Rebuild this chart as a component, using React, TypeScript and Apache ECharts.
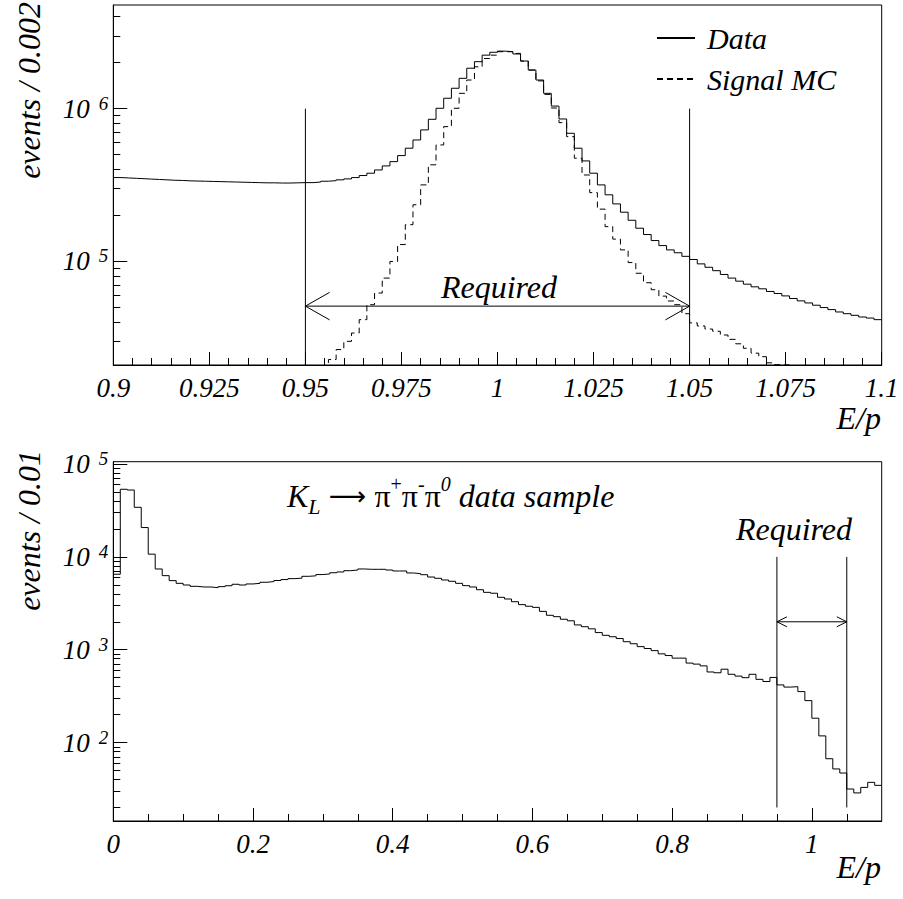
import React, { useEffect, useRef } from "react";
import * as echarts from "echarts";

// ---------------- data ----------------
// Top panel: E/p from 0.9 to 1.1, bins of 0.002
const TOP_X_MIN = 0.9;
const TOP_X_MAX = 1.1;
const TOP_BIN = 0.002;
const TOP_Y_MIN = 2.1e4;
const TOP_Y_MAX = 4.77e6;

const topDataValues = [
  3.54e5, 3.52e5, 3.5e5, 3.48e5, 3.46e5, 3.44e5, 3.42e5, 3.4e5, 3.39e5, 3.37e5,
  3.36e5, 3.35e5, 3.34e5, 3.33e5, 3.32e5, 3.31e5, 3.3e5, 3.29e5, 3.28e5, 3.27e5,
  3.27e5, 3.26e5, 3.26e5, 3.27e5, 3.28e5, 3.28e5, 3.31e5, 3.35e5, 3.38e5, 3.42e5,
  3.47e5, 3.54e5, 3.65e5, 3.78e5, 3.97e5, 4.22e5, 4.5e5, 4.93e5, 5.51e5, 6.24e5,
  7.26e5, 8.52e5, 1.006e6, 1.17e6, 1.36e6, 1.58e6, 1.84e6, 2.03e6, 2.24e6, 2.34e6,
  2.38e6, 2.36e6, 2.28e6, 2.05e6, 1.79e6, 1.54e6, 1.26e6, 1.04e6, 8.56e5, 6.9e5,
  5.51e5, 4.55e5, 3.78e5, 3.17e5, 2.73e5, 2.38e5, 2.1e5, 1.86e5, 1.65e5, 1.5e5,
  1.37e5, 1.27e5, 1.19e5, 1.14e5, 1.08e5, 1.03e5, 9.64e4, 9.16e4, 8.7e4, 8.22e4,
  7.78e4, 7.43e4, 7.1e4, 6.82e4, 6.62e4, 6.36e4, 6.17e4, 5.95e4, 5.72e4, 5.52e4,
  5.35e4, 5.17e4, 4.99e4, 4.84e4, 4.67e4, 4.55e4, 4.44e4, 4.33e4, 4.26e4, 4.16e4,
];

const MC_START_BIN = 27;
const topMcValues = [
  1.8e4, 2.28e4, 2.65e4, 3.0e4, 3.4e4, 4.16e4, 5.21e4, 6.21e4, 7.78e4, 1.0e5,
  1.29e5, 1.74e5, 2.35e5, 3.17e5, 4.29e5, 5.79e5, 7.63e5, 1.006e6, 1.26e6, 1.54e6,
  1.88e6, 2.13e6, 2.24e6, 2.36e6, 2.36e6, 2.3e6, 2.05e6, 1.79e6, 1.52e6, 1.24e6,
  1.01e6, 8.1e5, 6.56e5, 4.74e5, 3.68e5, 2.82e5, 2.2e5, 1.69e5, 1.4e5, 1.19e5,
  9.83e4, 8.37e4, 7.26e4, 6.53e4, 5.93e4, 5.51e4, 5.21e4, 4.55e4, 3.96e4, 3.78e4,
  3.61e4, 3.49e4, 3.3e4, 3.09e4, 2.89e4, 2.7e4, 2.51e4, 2.38e4, 2.17e4, 2.11e4,
  2.1e4, 1.9e4,
];

// Bottom panel: E/p from 0 to 1.1, bins of 0.01
const BOT_X_MIN = 0;
const BOT_X_MAX = 1.1;
const BOT_BIN = 0.01;
const BOT_Y_MIN = 14.3;
const BOT_Y_MAX = 1.06e5;

const bottomDataValues = [
  6.5e3, 5.35e4, 5.25e4, 3.42e4, 2.07e4, 1.07e4, 7.41e3, 6.28e3, 5.55e3, 5.19e3,
  4.98e3, 4.82e3, 4.74e3, 4.74e3, 4.66e3, 4.78e3, 4.89e3, 5.07e3, 4.98e3, 5.11e3,
  5.19e3, 5.33e3, 5.42e3, 5.57e3, 5.7e3, 5.83e3, 5.9e3, 6.18e3, 6.25e3, 6.45e3,
  6.55e3, 6.75e3, 6.88e3, 7.1e3, 7.22e3, 7.41e3, 7.35e3, 7.35e3, 7.35e3, 7.22e3,
  7.05e3, 7.05e3, 6.71e3, 6.6e3, 6.43e3, 6.07e3, 5.88e3, 5.64e3, 5.46e3, 5.19e3,
  4.9e3, 4.74e3, 4.43e3, 4.15e3, 4.06e3, 3.67e3, 3.52e3, 3.29e3, 3.06e3, 2.94e3,
  2.86e3, 2.59e3, 2.35e3, 2.27e3, 2.13e3, 2.05e3, 1.85e3, 1.77e3, 1.68e3, 1.53e3,
  1.43e3, 1.38e3, 1.32e3, 1.22e3, 1.16e3, 1.08e3, 1.03e3, 978, 903, 866,
  812, 812, 718, 700, 670, 576, 565, 617, 544, 520,
  500, 544, 480, 455, 503, 418, 396, 400, 354, 283,
  183, 118, 67, 52, 47, 31.6, 28.7, 32.9, 37.3, 34.6,
];

// cut window and arrows
const CUTS = [0.95, 1.05];
const TOP_CUT_TOP = 1e6;
const TOP_ARROW_Y = 5.1e4;
const BOT_CUT_RANGE = [20, 1e4];
const BOT_ARROW_Y = 2.0e3;

// ticks
const topXMajorTicks = [0.9, 0.925, 0.95, 0.975, 1, 1.025, 1.05, 1.075, 1.1];
const topXMinorTicks = [
  0.905, 0.91, 0.915, 0.92, 0.93, 0.935, 0.94, 0.945, 0.955, 0.96, 0.965, 0.97,
  0.98, 0.985, 0.99, 0.995, 1.005, 1.01, 1.015, 1.02, 1.03, 1.035, 1.04, 1.045,
  1.055, 1.06, 1.065, 1.07, 1.08, 1.085, 1.09, 1.095,
];
const botXMajorTicks = [0, 0.2, 0.4, 0.6, 0.8, 1];
const botXMinorTicks = [
  0.05, 0.1, 0.15, 0.25, 0.3, 0.35, 0.45, 0.5, 0.55, 0.65, 0.7, 0.75, 0.85, 0.9,
  0.95, 1.05,
];
const topYMajorTicks = [1e5, 1e6];
const topYMinorTicks = [
  3e4, 4e4, 5e4, 6e4, 7e4, 8e4, 9e4, 2e5, 3e5, 4e5, 5e5, 6e5, 7e5, 8e5, 9e5,
  2e6, 3e6, 4e6,
];
const botYMajorTicks = [1e2, 1e3, 1e4, 1e5];
const botYMinorTicks = [
  20, 30, 40, 50, 60, 70, 80, 90, 200, 300, 400, 500, 600, 700, 800, 900, 2e3,
  3e3, 4e3, 5e3, 6e3, 7e3, 8e3, 9e3, 2e4, 3e4, 4e4, 5e4, 6e4, 7e4, 8e4, 9e4,
];

// ---------------- helpers ----------------
const FONT = "Liberation Serif";

function histPoints(lo: number, width: number, values: number[], startBin = 0) {
  const pts: number[][] = values.map((v, i) => [
    +(lo + width * (startBin + i)).toFixed(6),
    v,
  ]);
  pts.push([
    +(lo + width * (startBin + values.length)).toFixed(6),
    values[values.length - 1],
  ]);
  return pts;
}

const xFmt = (v: number) => String(+Number(v).toFixed(3));
const yFmt = (v: number) => `{b|10}{s|${Math.round(Math.log10(v))}}`;

const tickLine = { color: "#000", width: 1 };

function makeXAxes(gridIndex: number, min: number, max: number, major: number[], minor: number[]) {
  return [
    {
      type: "value",
      gridIndex,
      min,
      max,
      position: "bottom",
      axisLine: { show: true, onZero: false, lineStyle: tickLine },
      axisTick: { show: true, inside: true, length: 13, customValues: major, lineStyle: tickLine },
      axisLabel: {
        show: true,
        customValues: major,
        formatter: xFmt,
        margin: 9,
        fontFamily: FONT,
        fontStyle: "italic",
        fontSize: 27,
        lineHeight: 27,
        color: "#000",
      },
      splitLine: { show: false },
    },
    {
      type: "value",
      gridIndex,
      min,
      max,
      position: "bottom",
      axisLine: { show: false, onZero: false },
      axisTick: { show: true, inside: true, length: 7, customValues: minor, lineStyle: tickLine },
      axisLabel: { show: false },
      splitLine: { show: false },
    },
  ];
}

function makeYAxes(gridIndex: number, min: number, max: number, major: number[], minor: number[]) {
  return [
    {
      type: "log",
      logBase: 10,
      gridIndex,
      min,
      max,
      position: "left",
      axisLine: { show: true, onZero: false, lineStyle: tickLine },
      axisTick: { show: true, inside: true, length: 14, customValues: major, lineStyle: tickLine },
      axisLabel: {
        show: true,
        customValues: major,
        formatter: yFmt,
        margin: 5,
        rich: {
          b: { fontFamily: FONT, fontStyle: "italic", fontSize: 27, lineHeight: 30, color: "#000" },
          s: {
            fontFamily: FONT,
            fontStyle: "italic",
            fontSize: 19,
            lineHeight: 16,
            verticalAlign: "top",
            padding: [0, 0, 0, 9],
            color: "#000",
          },
        },
      },
      splitLine: { show: false },
    },
    {
      type: "log",
      logBase: 10,
      gridIndex,
      min,
      max,
      position: "left",
      axisLine: { show: false, onZero: false },
      axisTick: { show: true, inside: true, length: 7, customValues: minor, lineStyle: tickLine },
      axisLabel: { show: false },
      splitLine: { show: false },
    },
  ];
}

function seg(xAxisIndex: number, yAxisIndex: number, data: number[][]) {
  return {
    type: "line",
    xAxisIndex,
    yAxisIndex,
    data,
    symbol: "none",
    silent: true,
    lineStyle: { color: "#000", width: 1 },
    z: 3,
  };
}

function arrowSeries(xi: number, yi: number, y: number, dx: number, f: number, cutLow: number, cutHigh: number) {
  const [a, b] = CUTS;
  return [
    seg(xi, yi, [[a, cutLow], [a, cutHigh]]),
    seg(xi, yi, [[b, cutLow], [b, cutHigh]]),
    seg(xi, yi, [[a, y], [b, y]]),
    seg(xi, yi, [[a + dx, y * f], [a, y], [a + dx, y / f]]),
    seg(xi, yi, [[b - dx, y * f], [b, y], [b - dx, y / f]]),
  ];
}

const italic = (size: number) => ({ fontFamily: FONT, fontStyle: "italic", fontSize: size, fill: "#000" });

export default function App() {
  const ref = useRef<HTMLDivElement>(null);

  useEffect(() => {
    if (!ref.current) return;
    const chart = echarts.init(ref.current, null, { renderer: "svg" });

    const option: any = {
      animation: false,
      backgroundColor: "#fff",
      textStyle: { fontFamily: FONT },
      grid: [
        { left: 113.3, top: 5, width: 768.4, height: 360, show: true, borderColor: "#000", borderWidth: 1, backgroundColor: "transparent" },
        { left: 113.3, top: 461.7, width: 768.4, height: 359.3, show: true, borderColor: "#000", borderWidth: 1, backgroundColor: "transparent" },
      ],
      xAxis: [
        ...makeXAxes(0, TOP_X_MIN, TOP_X_MAX, topXMajorTicks, topXMinorTicks),
        ...makeXAxes(1, BOT_X_MIN, BOT_X_MAX, botXMajorTicks, botXMinorTicks),
      ],
      yAxis: [
        ...makeYAxes(0, TOP_Y_MIN, TOP_Y_MAX, topYMajorTicks, topYMinorTicks),
        ...makeYAxes(1, BOT_Y_MIN, BOT_Y_MAX, botYMajorTicks, botYMinorTicks),
      ],
      legend: {
        data: ["Data", "Signal MC"],
        orient: "vertical",
        left: 651,
        top: 18,
        itemWidth: 38,
        itemHeight: 14,
        itemGap: 11,
        selectedMode: false,
        itemStyle: { opacity: 0 },
        textStyle: { fontFamily: FONT, fontStyle: "italic", fontSize: 30, lineHeight: 30, color: "#000", padding: [0, 0, 0, 7] },
      },
      series: [
        {
          name: "Data",
          type: "line",
          xAxisIndex: 0,
          yAxisIndex: 0,
          step: "end",
          symbol: "none",
          data: histPoints(TOP_X_MIN, TOP_BIN, topDataValues),
          lineStyle: { color: "#000", width: 1 },
          itemStyle: { color: "#000" },
          z: 4,
        },
        {
          name: "Signal MC",
          type: "line",
          xAxisIndex: 0,
          yAxisIndex: 0,
          step: "end",
          symbol: "none",
          data: histPoints(TOP_X_MIN, TOP_BIN, topMcValues, MC_START_BIN),
          lineStyle: { color: "#000", width: 1, type: [6, 4] },
          itemStyle: { color: "#000" },
          z: 4,
        },
        ...arrowSeries(0, 0, TOP_ARROW_Y, 0.0063, 1.23, TOP_Y_MIN, TOP_CUT_TOP),
        {
          name: "KL data sample",
          type: "line",
          xAxisIndex: 2,
          yAxisIndex: 2,
          step: "end",
          symbol: "none",
          data: histPoints(BOT_X_MIN, BOT_BIN, bottomDataValues),
          lineStyle: { color: "#000", width: 1 },
          z: 4,
        },
        ...arrowSeries(2, 2, BOT_ARROW_Y, 0.0143, 1.132, BOT_CUT_RANGE[0], BOT_CUT_RANGE[1]),
      ],
      graphic: [
        { type: "text", x: 29, y: 2, rotation: Math.PI / 2, style: { text: "events / 0.002", ...italic(32), align: "right", verticalAlign: "middle" } },
        { type: "text", x: 29, y: 450, rotation: Math.PI / 2, style: { text: "events / 0.01", ...italic(32), align: "right", verticalAlign: "middle" } },
        { type: "text", x: 881, y: 418, style: { text: "E/p", ...italic(32), align: "right", verticalAlign: "middle" } },
        { type: "text", x: 881, y: 867, style: { text: "E/p", ...italic(32), align: "right", verticalAlign: "middle" } },
        { type: "text", x: 499, y: 286.5, style: { text: "Required", ...italic(32), align: "center", verticalAlign: "middle" } },
        { type: "text", x: 794, y: 529, style: { text: "Required", ...italic(32), align: "center", verticalAlign: "middle" } },
        {
          type: "text",
          x: 287,
          y: 473.5,
          style: {
            text: "{i|K}{sub|L}{ar| ⟶ }{g|π}{sup|+}{g|π}{sup|-}{g|π}{supi|0}{i| data sample}",
            align: "left",
            verticalAlign: "top",
            fill: "#000",
            rich: {
              i: { fontFamily: FONT, fontStyle: "italic", fontSize: 32, lineHeight: 44, fill: "#000" },
              sub: { fontFamily: FONT, fontStyle: "italic", fontSize: 22, lineHeight: 17, verticalAlign: "bottom", fill: "#000" },
              ar: { fontFamily: "DejaVu Sans", fontSize: 26, lineHeight: 44, fill: "#000" },
              g: { fontFamily: FONT, fontStyle: "normal", fontSize: 32, lineHeight: 44, fill: "#000" },
              sup: { fontFamily: FONT, fontStyle: "normal", fontSize: 20, lineHeight: 36, verticalAlign: "top", fill: "#000" },
              supi: { fontFamily: FONT, fontStyle: "italic", fontSize: 20, lineHeight: 36, verticalAlign: "top", fill: "#000" },
            },
          },
        },
      ],
    };

    chart.setOption(option);
    return () => chart.dispose();
  }, []);

  return (
    <div
      ref={ref}
      style={{ position: "absolute", left: 0, top: 0, width: 903, height: 899, background: "#fff" }}
    />
  );
}
